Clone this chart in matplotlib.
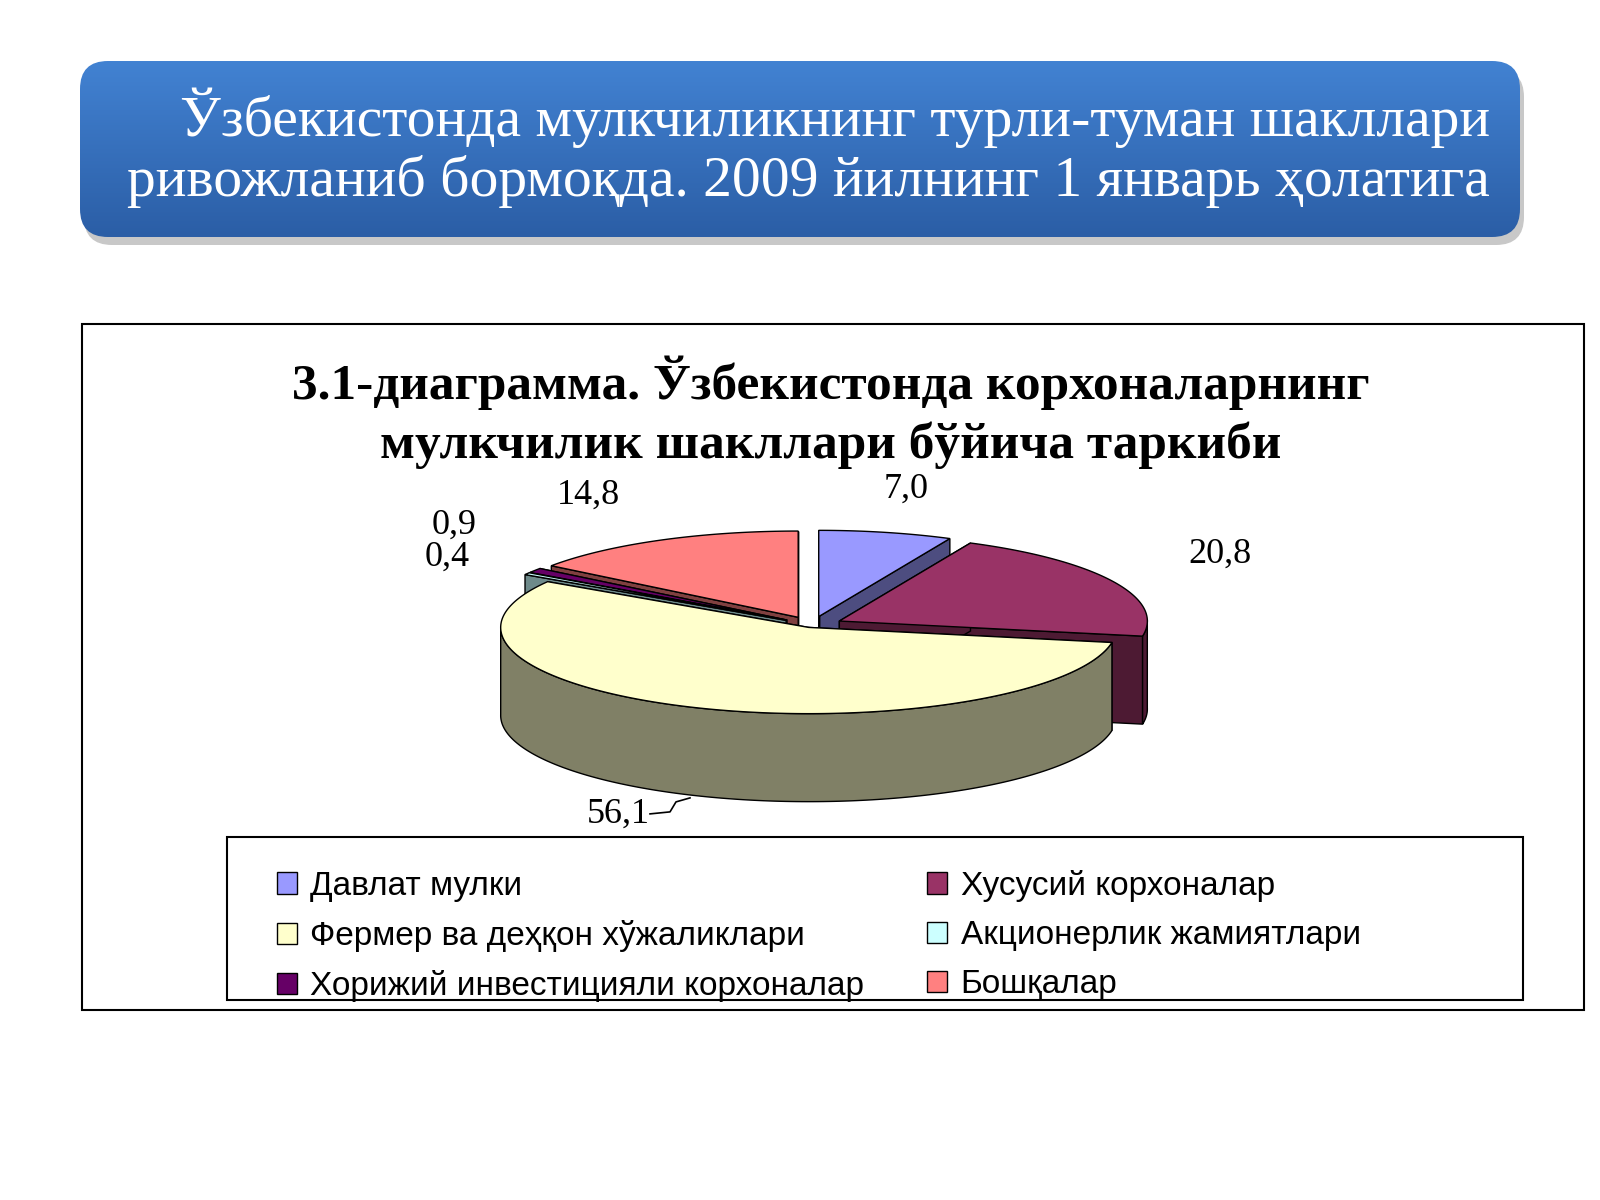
import matplotlib
matplotlib.use("Agg")
import matplotlib.pyplot as plt
import numpy as np
from matplotlib.patches import FancyBboxPatch, Rectangle, Patch

categories = ["Давлат мулки", "Хусусий корхоналар", "Фермер ва деҳқон хўжаликлари",
              "Акционерлик жамиятлари", "Хорижий инвестицияли корхоналар", "Бошқалар"]
values = [7.0, 20.8, 56.1, 0.4, 0.9, 14.8]
value_labels = ["7,0", "20,8", "56,1", "0,4", "0,9", "14,8"]
top_colors = ["#9999FF", "#993366", "#FFFFCC", "#CCFFFF", "#660066", "#FF8080"]
side_colors = ["#4D4D80", "#4D1A33", "#808066", "#668080", "#330033", "#804040"]
wall_face = ["#4D4D80", "#4D1A33", "#808066", "#6E8A8A", "#330033", "#804040"]

fig = plt.figure(figsize=(16, 12), dpi=100)
ax = fig.add_axes([0, 0, 1, 1])

# banner
shadow = FancyBboxPatch((84, 69), 1440, 176, boxstyle="round,pad=0,rounding_size=28",
                        fc="#c8c8c8", ec="none", zorder=1)
ax.add_patch(shadow)
banner = FancyBboxPatch((80, 61), 1440, 176, boxstyle="round,pad=0,rounding_size=28",
                        fc="none", ec="none", zorder=2)
ax.add_patch(banner)
grad = np.linspace(0, 1, 100).reshape(-1, 1)
cmap = matplotlib.colors.LinearSegmentedColormap.from_list("b", ["#4282D2", "#2B5EA6"])
im = ax.imshow(grad, cmap=cmap, extent=(80, 1520, 237, 61), aspect="auto", zorder=2)
im.set_clip_path(banner)
ax.set_xlim(0, 1600)
ax.set_ylim(1200, 0)
ax.axis("off")
ax.text(1490, 118, "Ўзбекистонда мулкчиликнинг турли-туман шакллари", ha="right", va="center",
        color="white", fontsize=41.5, family="Liberation Serif", zorder=3)
ax.text(1490, 181, "ривожланиб бормоқда. 2009 йилнинг 1 январь ҳолатига", ha="right", va="center",
        color="white", fontsize=41.5, family="Liberation Serif", zorder=3)

# chart frame
ax.add_patch(Rectangle((82, 324), 1502, 686, fc="white", ec="black", lw=1.5, zorder=1))
ax.text(831, 383, "3.1-диаграмма. Ўзбекистонда корхоналарнинг", ha="center", va="center",
        fontsize=37, fontweight="bold", family="Liberation Serif")
ax.text(831, 445, "мулкчилик шакллари бўйича таркиби", ha="center", va="center",
        fontsize=37, fontweight="bold", family="Liberation Serif")

# pseudo-3D exploded pie
cx, cy, R, k, D = 812, 625, 308, 0.28, 88
explode = [0.1, 0.1, 0.03, 0.1, 0.1, 0.1]

def pt(th, dx, dy, r=R, down=0):
    return cx + dx + r * np.cos(th), cy + dy - r * k * np.sin(th) + down

angles = []
a = 90.0
for v in values:
    a2 = a - v * 3.6
    angles.append((a, a2))
    a = a2

slices = []
for i, (a1, a2) in enumerate(angles):
    mid = np.radians((a1 + a2) / 2)
    dx = explode[i] * R * np.cos(mid)
    dy = -explode[i] * R * k * np.sin(mid)
    slices.append((i, np.radians(a2), np.radians(a1), mid, dx, dy))

# draw back to front
order = sorted(slices, key=lambda s: s[5] - R * k * np.sin(s[3]))
z = 5
for i, t1, t2, mid, dx, dy in order:
    for t in (t1, t2):
        x0, y0 = cx + dx, cy + dy
        x1, y1 = pt(t, dx, dy)
        ax.fill([x0, x1, x1, x0], [y0, y1, y1 + D, y0 + D], fc=wall_face[i], ec="black", lw=1, zorder=z)
    th = np.linspace(t1, t2, 200)
    front = th[np.sin(th) < 0.02]
    if len(front) > 1:
        xs, ys = pt(front, dx, dy)
        ax.fill(np.concatenate([xs, xs[::-1]]), np.concatenate([ys, (ys + D)[::-1]]),
                fc=side_colors[i], ec="black", lw=1, zorder=z)
    xs, ys = pt(th, dx, dy)
    ax.fill(np.concatenate([[cx + dx], xs]), np.concatenate([[cy + dy], ys]),
            fc=top_colors[i], ec="black", lw=1, zorder=z + 0.5)
    z += 1

# value labels
lab_r = [1.3, 1.3, 1.0, 1.25, 1.3, 1.3]
lab_off = [(0, -18), (25, -15), (0, 0), (-15, -5), (-5, -30), (-30, -22)]
for i, t1, t2, mid, dx, dy in slices:
    if i == 2:
        x1, y1 = pt(mid, dx, dy, down=D)
        ax.plot([x1 - 8, x1 - 22, x1 - 28, x1 - 48], [y1 + 2, y1 + 6, y1 + 16, y1 + 18],
                color="black", lw=1.2, zorder=40)
        ax.text(x1 - 48, y1 + 18, value_labels[i], ha="right", va="center",
                fontsize=26, family="Liberation Serif", zorder=40)
        continue
    x, y = pt(mid, dx, dy, r=R * lab_r[i])
    ax.text(x + lab_off[i][0], y + lab_off[i][1], value_labels[i], ha="center", va="center",
            fontsize=26, family="Liberation Serif", zorder=40)

# legend
ax.add_patch(Rectangle((227, 837), 1296, 163, fc="white", ec="black", lw=1.5, zorder=30))
idx = [0, 2, 4, 1, 3, 5]
handles = [Patch(fc=top_colors[j], ec="black", lw=1) for j in idx]
leg = ax.legend(handles, [categories[j] for j in idx], ncol=2,
                bbox_to_anchor=(250 / 1600, 1 - 843 / 1200),
                bbox_transform=ax.transAxes, loc="upper left",
                frameon=False, handlelength=0.6, handleheight=0.6, handletextpad=0.4,
                columnspacing=1.9, borderpad=0.3, labelspacing=0.55,
                prop={"family": "Liberation Sans", "size": 24})
leg.set_zorder(31)

fig.savefig("out.png", dpi=100)
